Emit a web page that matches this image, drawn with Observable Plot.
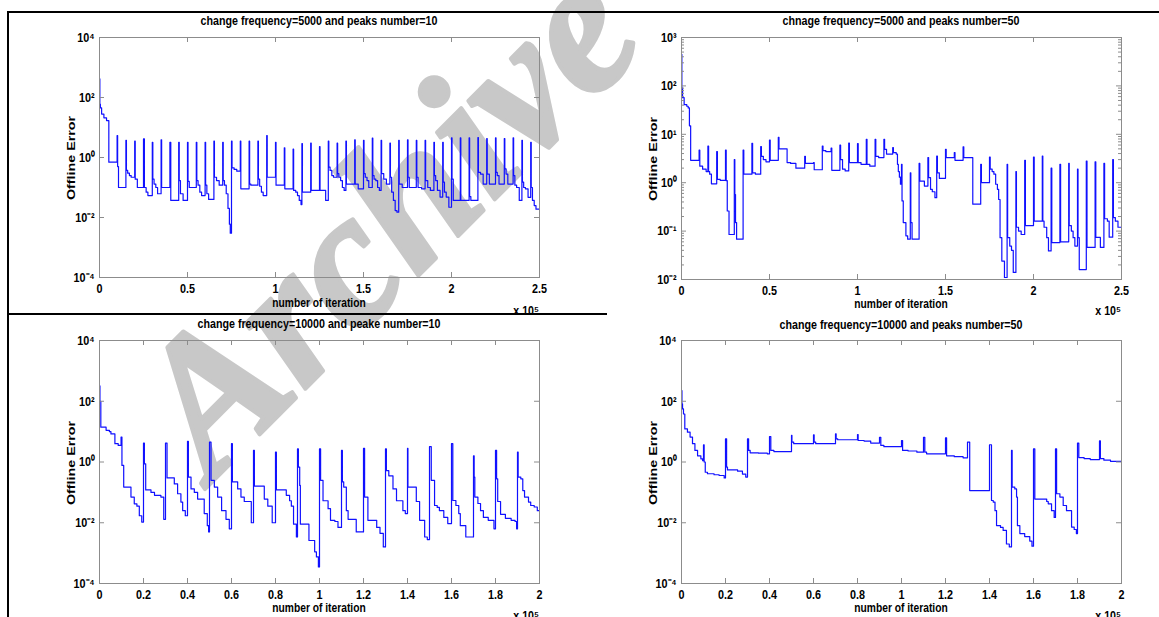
<!DOCTYPE html>
<html><head><meta charset="utf-8">
<script src="https://cdn.jsdelivr.net/npm/d3@7"></script>
<script src="https://cdn.jsdelivr.net/npm/@observablehq/plot@0.6"></script>
<style>
body{margin:0;background:#fff;}
#root{position:relative;width:1159px;height:617px;overflow:hidden;background:#fff;}
.panel{position:absolute;}
.t{position:absolute;font-weight:bold;white-space:nowrap;color:#000;font-family:"Liberation Sans",Arial,sans-serif;font-size:12.5px;line-height:1;}
.yl{position:absolute;font-weight:bold;white-space:nowrap;color:#000;font-family:"Liberation Sans",Arial,sans-serif;font-size:11px;line-height:1;}
.bd{position:absolute;background:#000;}
</style></head><body><div id="root"></div>
<script>
// ---- titles ----
const titles = [
  "change frequency=5000 and peaks number=10",
  "chnage frequency=5000 and peaks number=50",
  "change frequency=10000 and peake number=10",
  "change frequency=10000 and peaks number=50"
];
const xAxisLabel = "number of iteration";
const yAxisLabel = "Offline Error";
const xExponent = "x 10\u2075";
const watermark = "Archive";

// ---- ticks (x in thousands of iterations) ----
const xTicks250 = [0, 50, 100, 150, 200, 250];
const xLabels250 = ["0", "0.5", "1", "1.5", "2", "2.5"];
const xTicks200 = [0, 20, 40, 60, 80, 100, 120, 140, 160, 180, 200];
const xLabels200 = ["0", "0.2", "0.4", "0.6", "0.8", "1", "1.2", "1.4", "1.6", "1.8", "2"];
const yTicksWide = [1e4, 1e2, 1, 1e-2, 1e-4];
const yLabelsWide = ["10\u2074", "10\u00b2", "10\u2070", "10\u207b\u00b2", "10\u207b\u2074"];
const yTicksP2 = [1e3, 1e2, 1e1, 1, 1e-1, 1e-2];
const yLabelsP2 = ["10\u00b3", "10\u00b2", "10\u00b9", "10\u2070", "10\u207b\u00b9", "10\u207b\u00b2"];
const minorP2 = [0.02,0.03,0.04,0.05,0.06,0.07,0.08,0.09,0.2,0.3,0.4,0.5,0.6,0.7,0.8,0.9,2,3,4,5,6,7,8,9,20,30,40,50,60,70,80,90,200,300,400,500,600,700,800,900];

// ---- series: [iteration (thousands), offline error] ----
const p1 = [
[0,420],[0.2,60],[0.5,45],[1.2,28],[2.5,21],[4,17],[5.3,0.7],
[10,5.4],[10.3,0.5],[10.8,0.1],
[15,3.7],[15.3,0.37],[16,0.3],[17,0.25],[18,0.22],
[20,3.5],[20.3,0.19],[21.5,0.1],
[25,4.2],[25.5,0.1],[26.5,0.07],[27.5,0.054],
[30,3.2],[30.3,0.19],[31,0.13],[32,0.1],[33,0.062],
[35,3.9],[35.3,0.1],
[40,3.2],[40.5,0.037],
[45,3.2],[45.3,0.17],[46,0.062],[47.5,0.037],
[50,3.2],[50.3,0.16],[51,0.1],
[55,3.2],[55.3,0.17],[56,0.12],[57,0.07],[58,0.054],
[60,3.2],[60.3,0.12],[61,0.062],[62,0.04],
[65,3.5],[65.3,0.22],[66.5,0.17],[68,0.12],
[70,3.2],[70.3,0.17],[71,0.12],[72,0.062],[73,0.02],[73.8,0.006],[74.3,0.003],
[75,3.5],[75.3,0.45],[76.5,0.4],[78,0.35],
[80,3.5],[80.3,0.09],
[85,3.5],[85.3,0.13],[86,0.12],
[90,3.5],[90.3,0.19],[91,0.11],[92,0.07],[93,0.054],
[95,5.4],[95.3,0.22],
[100,3.2],[100.3,0.12],
[105,2.1],[105.3,0.09],
[110,1.9],[110.3,0.08],[111.5,0.07],[112.5,0.054],[113.5,0.037],[114.5,0.027],
[115,2.9],[115.3,0.07],
[120,3.0],[120.3,0.08],
[125,2.3],[125.3,0.08],[128.5,0.037],
[130,3.5],[130.3,0.48],[131,0.37],[132,0.25],[133,0.22],
[135,3.0],[135.3,0.29],[136,0.22],[137,0.17],[138,0.1],[139,0.08],
[140,3.5],[140.3,0.13],
[145,3.9],[145.3,0.13],[147,0.09],
[150,3.7],[150.3,0.29],[151,0.22],[152,0.17],[153,0.1],
[155,4.4],[155.3,0.25],[156,0.19],[157,0.17],[158,0.1],[159,0.08],
[160,3.7],[160.3,0.29],[161.5,0.19],[163,0.13],
[165,3.0],[165.3,0.22],[166,0.07],[167,0.037],[168,0.017],[169,0.015],
[170,3.7],[170.3,0.13],[172,0.1],
[175,3.9],[175.3,0.22],[176,0.1],
[180,3.7],[180.3,0.22],[181,0.1],[183,0.09],
[185,3.7],[185.3,0.17],[186.5,0.1],[188,0.08],
[190,3.2],[190.3,0.25],[191,0.17],[192,0.08],[193.5,0.048],
[195,3.2],[195.3,0.15],[196,0.07],[197,0.048],[198.5,0.022],
[200,4.5],[200.3,0.19],[201,0.037],
[205,4.5],[205.3,0.037],
[210,4.5],[210.3,0.05],[211,0.037],
[215,4.6],[215.3,0.32],[216.5,0.28],[218,0.13],
[220,4.3],[220.3,0.28],[221.5,0.13],
[225,4.5],[225.3,0.32],[226,0.25],[227,0.13],
[230,4.3],[230.3,0.42],[231,0.28],[232,0.13],
[235,4.5],[235.3,0.25],[236,0.12],[237,0.1],[238.5,0.037],
[240,3.7],[240.3,0.15],[241,0.1],[242,0.09],[243.5,0.047],
[245,3.2],[245.3,0.1],[246,0.037],[247,0.025],[248,0.019],[250,0.019]
];
const p2 = [
[0,450],[0.2,90],[0.6,57],[1.5,41],[3,38],[3.8,35],[4.5,15],[5.2,2.9],
[10,4.7],[10.4,2.2],[12,1.9],[14,1.7],
[15,5.7],[15.4,1.7],[16,1.5],[17,0.95],
[20,4.4],[20.4,1.17],[22,1.12],
[25,4.7],[25.4,1.1],[26,0.26],[27,0.085],
[30,3.0],[30.3,0.57],[30.7,0.15],[31.3,0.068],
[35,4.7],[35.4,1.5],
[40,6.5],[40.4,1.6],[42,1.5],
[45,5.6],[45.4,3.5],[46.5,3.0],[48,2.7],
[50,7.6],[50.4,2.9],
[55,8.6],[55.4,5.0],
[60,2.6],[62,2.5],
[65,2.0],
[70,3.5],[70.4,2.5],
[75,2.6],[75.4,1.85],
[80,5.7],[80.4,4.6],[82,4.4],
[85,5.2],[85.4,1.8],
[90,6.0],[90.4,3.0],[91.5,1.9],[93,1.75],
[95,6.6],[95.4,2.6],
[100,6.4],[100.4,2.6],[102,2.4],
[105,7.9],[105.4,2.4],[107,2.2],
[110,7.9],[110.4,3.5],[112,3.3],
[115,7.9],[115.4,4.9],[116.5,3.9],
[120,5.3],[120.4,4.2],[122,3.9],[122.7,2.4],[123.2,1.7],[123.8,1.3],[124.4,0.93],
[125,2.4],[125.3,0.42],[126,0.15],[127.5,0.08],[128.5,0.068],
[130,1.6],[130.3,0.15],[131,0.068],
[135,2.5],[135.4,1.08],[138,0.85],
[140,3.3],[140.4,1.27],[141.5,0.73],[142.5,0.65],[144,0.49],
[145,3.55],[145.4,1.6],[146.5,1.23],
[150,4.9],[150.4,3.3],
[155,4.2],[155.4,2.9],
[160,5.5],[160.4,3.3],
[165.5,0.36],
[170,2.4],[170.4,1.0],
[175,3.4],[175.4,1.9],[176.5,1.7],[177.5,1.5],[178.5,0.93],[179.5,0.73],[180.2,0.45],[181,0.073],[182,0.024],[183.5,0.011],
[185,2.4],[185.3,0.073],[186.5,0.049],[187.5,0.04],[188.5,0.014],
[190,1.7],[190.3,0.12],[191.5,0.1],[193,0.085],
[195,2.9],[195.4,0.13],
[200,3.4],[200.4,0.16],
[205,3.55],[205.3,0.16],[206,0.12],[207.5,0.073],[208.5,0.039],
[210,2.0],[210.4,0.058],
[215,2.4],[215.4,0.06],
[220,2.5],[220.3,0.13],[221.5,0.1],[222.5,0.073],[223.5,0.049],
[225,1.9],[225.3,0.073],[226,0.016],
[230,2.8],[230.4,0.046],
[235,2.7],[235.4,0.074],[238,0.046],
[240,2.5],[240.4,0.18],[242,0.16],[243,0.075],
[245,3.0],[245.4,0.19],[246.5,0.16],[248,0.12],[250,0.12]
];
const p3 = [
[0,320],[0.2,100],[0.6,14],[3,11],[4.5,10],[5.2,8.4],[7,4.0],[8.5,3.5],
[9.8,6.6],[10.2,0.77],[11,0.15],[14.3,0.07],[15.8,0.042],[17,0.035],[18.1,0.017],[19.2,0.0105],
[20,4.2],[20.4,0.87],[21,0.12],[23.4,0.1],[25,0.08],[27.9,0.07],[29.2,0.013],
[30,4.2],[30.7,0.3],[34,0.19],[35.5,0.09],[37,0.048],[37.8,0.025],[39,0.017],
[40,4.8],[40.4,0.32],[41.6,0.13],[43.1,0.1],[44.6,0.06],[47.6,0.02],[49,0.008],[49.6,0.005],
[50,4.5],[50.7,0.25],[52.2,0.15],[53.7,0.07],[55.5,0.025],[57.5,0.013],[59,0.0063],
[60,4.0],[60.4,0.22],[62.8,0.13],[64.3,0.07],[65.8,0.05],[69,0.01],
[70,2.4],[70.4,0.16],[74.9,0.06],[76.5,0.035],[78.5,0.01],
[80,2.1],[80.4,0.12],[84.9,0.08],[86.4,0.053],[87.2,0.035],[88.2,0.009],[89.5,0.0034],
[90,2.7],[90.4,0.68],[91,0.17],[91.3,0.009],[95.2,0.0026],[97.8,0.0011],[98.6,0.00075],[99.5,0.00035],
[100,2.7],[100.5,0.25],[101.6,0.053],[103.9,0.029],[105,0.012],[107,0.011],[108.4,0.007],
[110,2.4],[110.4,0.22],[111,0.15],[112.2,0.025],[113,0.013],[116.7,0.005],
[120,2.8],[120.5,0.07],[122,0.012],[126,0.007],[127.5,0.0045],[129,0.0016],
[130,2.7],[130.4,0.52],[131.5,0.35],[133.4,0.13],[135,0.053],[137.9,0.025],[139,0.02],
[140,2.8],[140.2,0.15],[144,0.05],[145.5,0.012],[147.8,0.0034],[149,0.0028],
[150,3.2],[150.8,0.25],[152.3,0.037],[153.5,0.032],[154.5,0.025],[156.5,0.015],[158.3,0.0094],
[160,4.0],[160.6,0.054],[162,0.037],[163.3,0.02],[164,0.008],[166.5,0.0034],
[170,1.6],[170.3,0.32],[170.6,0.07],[172,0.043],[173.2,0.025],[174.5,0.015],[176.7,0.012],[179.3,0.0063],
[180,2.4],[180.5,0.28],[181,0.05],[182.3,0.019],[184.5,0.014],[187.1,0.012],[188.9,0.011],[189.6,0.0063],
[190,2.1],[190.3,0.32],[191.5,0.28],[192.4,0.115],[193.2,0.07],[195,0.048],[196,0.037],[197.6,0.033],[199,0.025],[200,0.025]
];
const p4 = [
[0,225],[0.2,82],[0.47,56],[0.9,38],[1.5,12.3],[2.7,9.6],[3.9,6.6],[5,4.0],[6.1,2.4],[7.3,1.6],[8.8,1.27],[9.6,1.1],
[10,3.7],[10.3,1.0],[10.8,0.46],[11.8,0.41],[14.8,0.38],[17.1,0.36],[19.4,0.3],
[20,5.8],[20.5,0.68],[20.9,0.55],[23.2,0.55],[25.5,0.5],[27.7,0.4],[29.2,0.32],
[30,5.8],[30.5,2.4],[31.2,2.0],[35,1.95],[39,1.86],
[40,6.9],[40.6,2.4],[42,2.2],
[50,7.5],[50.2,4.5],[51,4.0],
[60,7.8],[60.3,4.5],[61,4.0],
[70,8.4],[70.3,5.8],[71,5.4],
[80,8.0],[80.3,5.1],[83,4.9],[86,4.2],
[90,6.5],[90.6,3.5],[92,3.2],
[100,5.1],[100.5,2.4],[103,2.3],[107,2.1],
[110,6.5],[110.6,2.1],[111.4,1.86],
[120,6.2],[120.5,1.6],[124,1.5],[128,1.37],
[130,4.5],[131,0.115],
[140,3.7],[140.9,0.054],[141.7,0.048],[142.5,0.025],[143.2,0.0081],[145,0.007],[146.2,0.0056],[147.7,0.002],[149,0.0016],
[150,2.4],[150.3,0.15],[151.5,0.13],[152.3,0.07],[152.7,0.008],[153.8,0.0044],[156,0.0035],[158.3,0.0025],[159.3,0.0017],
[160,2.7],[160.6,0.06],[166,0.05],[166.7,0.042],[168.2,0.025],[169.4,0.015],
[170,2.7],[170.5,0.09],[172,0.07],[173.5,0.037],[175,0.025],[177.3,0.0072],[178.5,0.006],[179.5,0.0044],
[180,4.2],[180.6,1.4],[183,1.3],[185.8,1.2],
[190,5.0],[190.4,1.3],[192,1.15],[195,1.05],[200,1.0]
];

const root = document.getElementById("root");
const AX = "#8c8c8c";
const FONT = '"Liberation Sans",Arial,sans-serif';

// watermark (behind the charts)
const NS = "http://www.w3.org/2000/svg";
const wm = document.createElementNS(NS, "svg");
wm.setAttribute("width", 1159); wm.setAttribute("height", 617);
wm.style.position = "absolute"; wm.style.left = "0"; wm.style.top = "0";
const wt = document.createElementNS(NS, "text");
wt.setAttribute("x", 0); wt.setAttribute("y", 0);
wt.setAttribute("transform", "translate(212,482) rotate(-45)");
wt.setAttribute("font-family", '"Liberation Serif","DejaVu Serif",serif');
wt.setAttribute("font-style", "italic");
wt.setAttribute("font-weight", "bold");
wt.setAttribute("font-size", 192);
wt.setAttribute("fill", "#c8c8c8");
wt.setAttribute("stroke", "#c8c8c8");
wt.setAttribute("stroke-width", 4);
wt.setAttribute("stroke-linejoin", "round");
wt.textContent = watermark;
wm.appendChild(wt);
root.appendChild(wm);

function condense(svg) {
  svg.querySelectorAll('g[aria-label$="tick label"] text').forEach(t => {
    const tr = t.getAttribute("transform");
    if (tr && tr.includes("translate")) t.setAttribute("transform", tr + " scale(0.8,1)");
  });
}

function panel(cfg) {
  const fw = cfg.w - cfg.ml - cfg.mr, fh = cfg.h - cfg.mt - cfg.mb;
  const xf = d => cfg.xLabels[cfg.xTicks.indexOf(d)];
  const yf = d => cfg.yLabels[cfg.yTicks.indexOf(d)];
  const marks = [
    Plot.line(cfg.data, {x: d => d[0], y: d => d[1], curve: "step-after", stroke: "#1010ff", strokeWidth: 1.2, clip: true}),
    Plot.frame({stroke: AX}),
    Plot.tickX(cfg.xTicks, {x: d => d, stroke: AX, insetTop: fh - 5}),
    Plot.tickX(cfg.xTicks, {x: d => d, stroke: AX, insetBottom: fh - 5}),
    Plot.tickY(cfg.yTicks, {y: d => d, stroke: AX, insetRight: fw - 5}),
    Plot.tickY(cfg.yTicks, {y: d => d, stroke: AX, insetLeft: fw - 5}),
    Plot.axisX(cfg.xTicks, {tickSize: 0, tickPadding: 6, tickFormat: xf, label: null, fontSize: 13.5, fontWeight: "bold", fill: "#000"}),
    Plot.axisY(cfg.yTicks, {tickSize: 0, tickPadding: 5, tickFormat: yf, label: null, fontSize: 13.5, fontWeight: "bold", fill: "#000"})
  ];
  if (cfg.minor) {
    marks.push(Plot.tickY(cfg.minor, {y: d => d, stroke: AX, insetRight: fw - 3}));
    marks.push(Plot.tickY(cfg.minor, {y: d => d, stroke: AX, insetLeft: fw - 3}));
  }
  const svg = Plot.plot({
    width: cfg.w, height: cfg.h,
    marginLeft: cfg.ml, marginRight: cfg.mr, marginTop: cfg.mt, marginBottom: cfg.mb,
    style: {background: "transparent", fontFamily: FONT, fontSize: "13px", color: "#000", overflow: "visible"},
    x: {domain: cfg.xDomain, axis: null},
    y: {type: "log", domain: cfg.yDomain, axis: null},
    marks
  });
  condense(svg);
  svg.classList.add("panel");
  svg.style.left = cfg.left + "px";
  svg.style.top = cfg.top + "px";
  svg.style.position = "absolute";
  root.appendChild(svg);
}

panel({data: p1, left: 0, top: 0, w: 600, h: 310, ml: 99, mr: 61, mt: 37, mb: 33,
  xDomain: [0, 250], xTicks: xTicks250, xLabels: xLabels250, yDomain: [1e-4, 1e4], yTicks: yTicksWide, yLabels: yLabelsWide});
panel({data: p2, left: 600, top: 0, w: 559, h: 310, ml: 81, mr: 38, mt: 37, mb: 31,
  xDomain: [0, 250], xTicks: xTicks250, xLabels: xLabels250, yDomain: [1e-2, 1e3], yTicks: yTicksP2, yLabels: yLabelsP2, minor: minorP2});
panel({data: p3, left: 0, top: 310, w: 600, h: 307, ml: 99, mr: 61, mt: 30, mb: 34,
  xDomain: [0, 200], xTicks: xTicks200, xLabels: xLabels200, yDomain: [1e-4, 1e4], yTicks: yTicksWide, yLabels: yLabelsWide});
panel({data: p4, left: 600, top: 310, w: 559, h: 307, ml: 81, mr: 38, mt: 30, mb: 34,
  xDomain: [0, 200], xTicks: xTicks200, xLabels: xLabels200, yDomain: [1e-4, 1e4], yTicks: yTicksWide, yLabels: yLabelsWide});

// text labels
function label(txt, cx, cy, cls, extra) {
  const d = document.createElement("div");
  d.className = cls;
  d.textContent = txt;
  d.style.left = cx + "px"; d.style.top = cy + "px";
  d.style.transform = "translate(-50%,-50%)" + (extra || "");
  root.appendChild(d);
  return d;
}
const centers = [[319, 20.7, 303, 157.5, 71, 539, 311], [901, 20.5, 303.5, 158.7, 652.5, 1121, 311],
                 [319, 324, 607.5, 462.5, 71, 539, 615.5], [901, 324.5, 607.5, 462.5, 652.5, 1121, 615.5]];
centers.forEach((c, i) => {
  label(titles[i], c[0], c[1], "t", " scaleX(0.855)");
  label(xAxisLabel, c[0], c[2], "t", " scaleX(0.82)");
  label(yAxisLabel, c[4], c[3], "yl", " rotate(-90deg) scaleX(1.3)");
  const e = document.createElement("div");
  e.className = "t";
  e.textContent = xExponent;
  e.style.left = (c[5] - 40) + "px"; e.style.width = "40px"; e.style.textAlign = "right";
  e.style.top = (c[6] - 6) + "px";
  e.style.transformOrigin = "right center";
  e.style.transform = "scaleX(0.85)";
  root.appendChild(e);
});

// table borders
[[7, 11, 1152, 2], [7, 11, 2, 606], [7, 313, 600, 2]].forEach(b => {
  const d = document.createElement("div");
  d.className = "bd";
  d.style.left = b[0] + "px"; d.style.top = b[1] + "px"; d.style.width = b[2] + "px"; d.style.height = b[3] + "px";
  root.appendChild(d);
});
</script></body></html>
